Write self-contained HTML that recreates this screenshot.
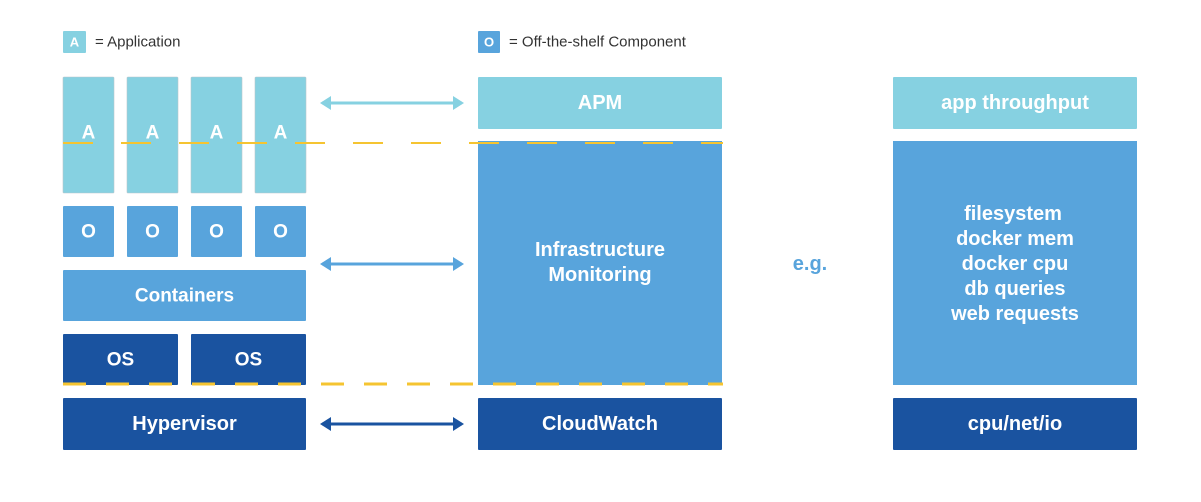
<!DOCTYPE html>
<html><head><meta charset="utf-8"><style>
html,body{margin:0;padding:0;background:#fff;width:1201px;height:502px;overflow:hidden}
svg{display:block}
text{font-family:"Liberation Sans",sans-serif;font-weight:bold;fill:#fff;text-anchor:middle;dominant-baseline:central}
</style></head><body>
<svg width="1201" height="502" viewBox="0 0 1201 502">
<defs>
<marker id="hl" markerWidth="11" markerHeight="14" refX="9" refY="7" orient="auto-start-reverse" markerUnits="userSpaceOnUse"><path d="M0,0 L11,7 L0,14 Z" fill="context-stroke"/></marker>
</defs>
<!-- legend -->
<rect x="63" y="31" width="23" height="22" rx="1" fill="#86d1e1"/>
<text x="74.5" y="42" font-size="13">A</text>
<text x="95" y="42" font-size="15" style="font-weight:normal;fill:#333;text-anchor:start">= Application</text>
<rect x="478" y="31" width="22" height="22" rx="1" fill="#58a4dc"/>
<text x="489" y="42" font-size="13">O</text>
<text x="509" y="42" font-size="15" style="font-weight:normal;fill:#333;text-anchor:start">= Off-the-shelf Component</text>

<!-- A columns -->
<g fill="#86d1e1" stroke="#b8c6cc" stroke-width="0.6">
<rect x="63" y="77" width="51" height="116" rx="1"/>
<rect x="127" y="77" width="51" height="116" rx="1"/>
<rect x="191" y="77" width="51" height="116" rx="1"/>
<rect x="255" y="77" width="51" height="116" rx="1"/>
</g>
<g font-size="19"><text x="88.5" y="133">A</text><text x="152.5" y="133">A</text><text x="216.5" y="133">A</text><text x="280.5" y="133">A</text></g>

<!-- O boxes -->
<g fill="#58a4dc">
<rect x="63" y="206" width="51" height="51" rx="1"/>
<rect x="127" y="206" width="51" height="51" rx="1"/>
<rect x="191" y="206" width="51" height="51" rx="1"/>
<rect x="255" y="206" width="51" height="51" rx="1"/>
<rect x="63" y="270" width="243" height="51" rx="1"/>
</g>
<g font-size="19"><text x="88.5" y="232">O</text><text x="152.5" y="232">O</text><text x="216.5" y="232">O</text><text x="280.5" y="232">O</text></g>
<text x="184.5" y="296" font-size="19">Containers</text>

<g fill="#1a53a0">
<rect x="63" y="334" width="115" height="51" rx="1"/>
<rect x="191" y="334" width="115" height="51" rx="1"/>
<rect x="63" y="398" width="243" height="52" rx="1"/>
<rect x="478" y="398" width="244" height="52" rx="1"/>
<rect x="893" y="398" width="244" height="52" rx="1"/>
</g>
<text x="120.5" y="360" font-size="19">OS</text>
<text x="248.5" y="360" font-size="19">OS</text>
<text x="184.5" y="424" font-size="20">Hypervisor</text>
<text x="600" y="424" font-size="20">CloudWatch</text>
<text x="1015" y="424" font-size="20">cpu/net/io</text>

<!-- middle -->
<rect x="478" y="77" width="244" height="52" rx="1" fill="#86d1e1"/>
<text x="600" y="103" font-size="20">APM</text>
<rect x="478" y="141" width="244" height="244" fill="#58a4dc"/>
<text x="600" y="250" font-size="20">Infrastructure</text>
<text x="600" y="275" font-size="20">Monitoring</text>

<!-- right -->
<rect x="893" y="77" width="244" height="52" rx="1" fill="#86d1e1"/>
<text x="1015" y="103" font-size="20">app throughput</text>
<rect x="893" y="141" width="244" height="244" fill="#58a4dc"/>
<g font-size="20">
<text x="1013" y="214">filesystem</text>
<text x="1015" y="239">docker mem</text>
<text x="1015" y="264">docker cpu</text>
<text x="1015" y="289">db queries</text>
<text x="1015" y="314">web requests</text>
</g>
<text x="810" y="264" font-size="20" style="fill:#58a4dc">e.g.</text>

<!-- arrows -->
<line x1="322" y1="103" x2="462" y2="103" stroke="#86d1e1" stroke-width="3" marker-start="url(#hl)" marker-end="url(#hl)"/>
<line x1="322" y1="264" x2="462" y2="264" stroke="#58a4dc" stroke-width="3" marker-start="url(#hl)" marker-end="url(#hl)"/>
<line x1="322" y1="424" x2="462" y2="424" stroke="#1a53a0" stroke-width="3" marker-start="url(#hl)" marker-end="url(#hl)"/>

<!-- dashed lines -->
<line x1="63" y1="143" x2="723" y2="143" stroke="#f5c431" stroke-width="2" stroke-dasharray="30,28"/>
<line x1="63" y1="384" x2="723" y2="384" stroke="#f5c431" stroke-width="3" stroke-dasharray="23,20"/>
</svg>
</body></html>
